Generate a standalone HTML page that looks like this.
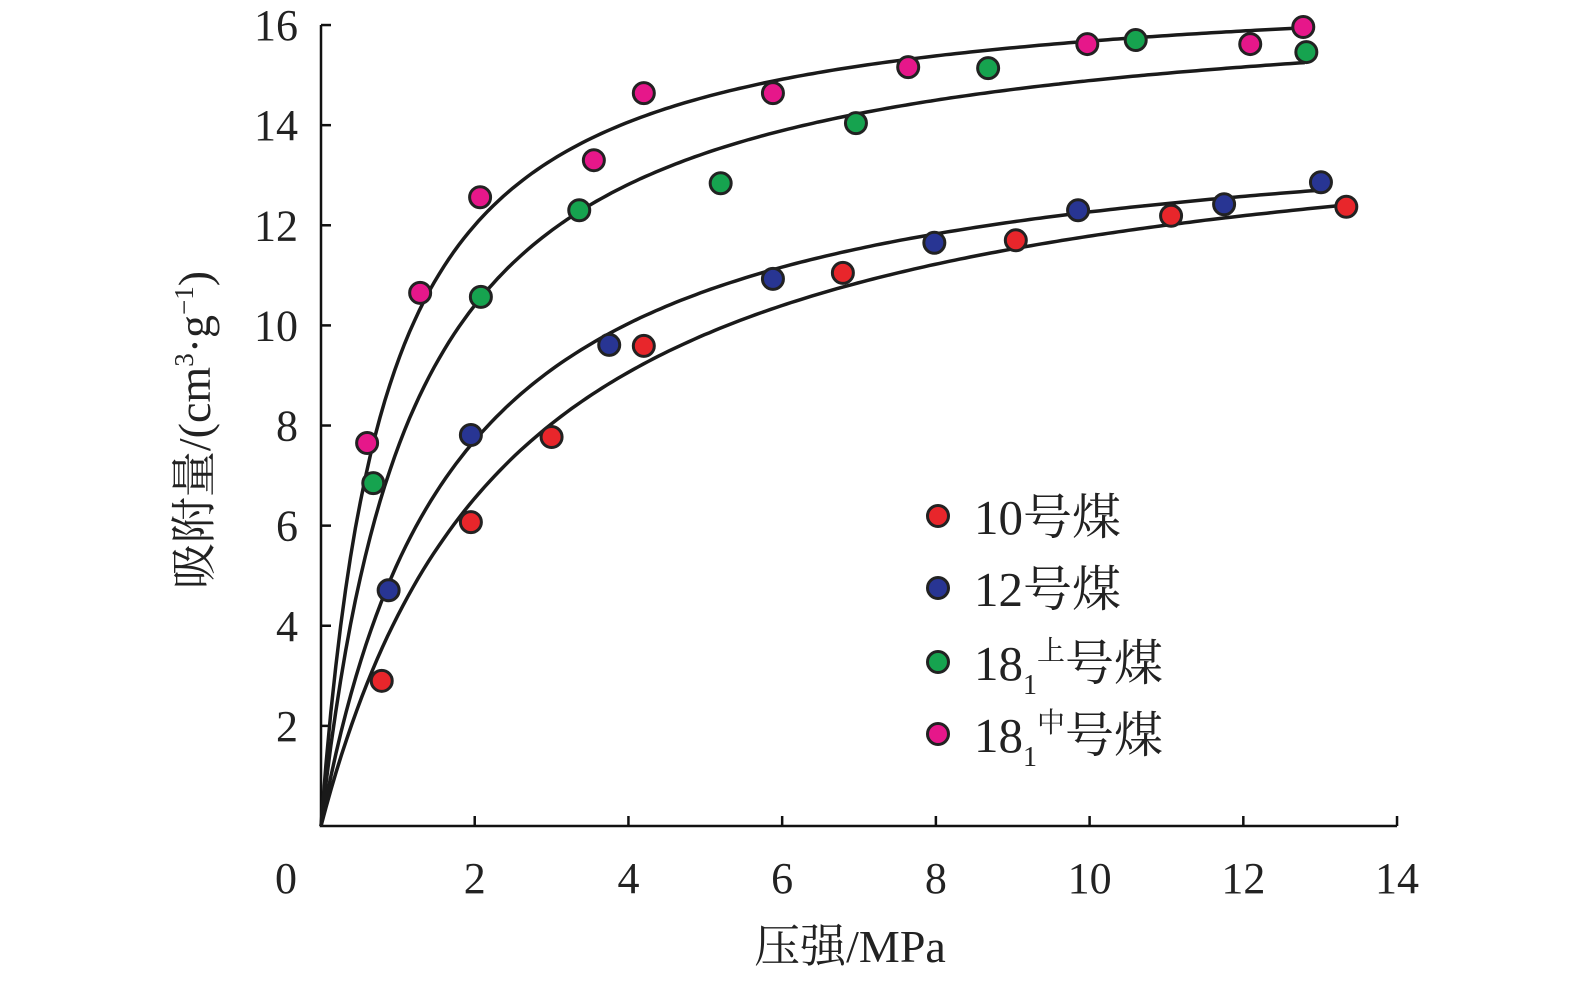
<!DOCTYPE html>
<html><head><meta charset="utf-8"><style>
html,body{margin:0;padding:0;background:#fff;}
svg{display:block;font-family:"Liberation Serif","Noto Serif CJK SC","Noto Sans CJK SC",serif;}
</style></head><body>
<svg id="chart" width="1575" height="984" viewBox="0 0 1575 984"></svg>
<script>
const xTicks=[0,2,4,6,8,10,12,14];
const yTicks=[2,4,6,8,10,12,14,16];
const seriesNames=["10号煤","12号煤","18₁上号煤","18₁中号煤"];
const seriesColors=["#e8262b","#283593","#16a34f","#e6178a"];
const redX=[0.79,1.95,3.0,4.2,6.79,9.04,11.06,13.34];
const redY=[2.9,6.07,7.77,9.59,11.05,11.7,12.19,12.37];
const blueX=[0.88,1.95,3.75,5.88,7.98,9.85,11.75,13.01];
const blueY=[4.71,7.81,9.61,10.93,11.65,12.3,12.42,12.86];
const greenX=[0.68,2.08,3.36,5.2,6.96,8.68,10.6,12.82];
const greenY=[6.85,10.57,12.3,12.84,14.04,15.14,15.7,15.46];
const pinkX=[0.6,1.29,2.07,3.55,4.2,5.88,7.64,9.97,12.09,12.78];
const pinkY=[7.65,10.65,12.56,13.3,14.64,14.64,15.16,15.62,15.62,15.96];
const fitVL=[14.73,14.4,16.69,16.98];
const fitPL=[2.5,1.739,1.209,0.83];
const fitEnd=[13.3,13.0,12.8,12.8];

const NS="http://www.w3.org/2000/svg";
const svg=document.getElementById('chart');
const X=v=>321+v*76.86;
const Y=v=>826-v*50.06;
function mk(t,a){const e=document.createElementNS(NS,t);for(const k in a)e.setAttribute(k,a[k]);svg.appendChild(e);return e;}

let ax=mk('path',{d:`M${X(0)},${Y(16)} L${X(0)},${Y(0)} L${X(14)},${Y(0)}`,fill:'none',stroke:'#111','stroke-width':2.5});


xTicks.forEach(t=>{
  if(t>0){let l=mk('line',{x1:X(t),x2:X(t),y1:Y(0),y2:Y(0)-10,stroke:'#111','stroke-width':2.5});
  
  }
  let tx=mk('text',{x:t===0?286:X(t),y:893,'font-size':44,'text-anchor':'middle',fill:'#222'});
  tx.textContent=t;
  
  
});
yTicks.forEach(t=>{
  let l=mk('line',{x1:X(0),x2:X(0)+10,y1:Y(t),y2:Y(t),stroke:'#111','stroke-width':2.5});
  
  
  let tx=mk('text',{x:298,y:Y(t)+15,'font-size':44,'text-anchor':'end',fill:'#222'});
  tx.textContent=t;
  
  
});
let xt=mk('text',{x:850,y:962,'font-size':46,'text-anchor':'middle',fill:'#222'});
xt.textContent='压强/MPa';


let yt=mk('text',{x:0,y:0,'font-size':46,'text-anchor':'middle',fill:'#222',transform:'translate(210,430) rotate(-90)'});
yt.innerHTML='吸附量/(cm<tspan font-size="27" dy="-17">3</tspan><tspan dy="17">·g</tspan><tspan font-size="27" dy="-17">−1</tspan><tspan dy="17">)</tspan>';



for(let i=0;i<4;i++){
  let d='';
  for(let k=0;k<=200;k++){const p=fitEnd[i]*k/200;const v=fitVL[i]*p/(fitPL[i]+p);d+=(k?'L':'M')+X(p).toFixed(1)+','+Y(v).toFixed(1);}
  let c=mk('path',{d,fill:'none',stroke:'#1a1a1a','stroke-width':3.5});
  
  
}
const allX=[redX,blueX,greenX,pinkX],allY=[redY,blueY,greenY,pinkY];
for(let i=0;i<4;i++){
  allX[i].forEach((x,j)=>{
    let c=mk('circle',{cx:X(x),cy:Y(allY[i][j]),r:10.5,fill:seriesColors[i],stroke:'#222','stroke-width':3});
    
    
  });
}
const legY=[516,588,662,734];
const legHTML=['10号煤','12号煤','18<tspan font-size="28" dy="14">1</tspan><tspan font-size="28" dy="-34">上</tspan><tspan dy="20">号煤</tspan>','18<tspan font-size="28" dy="14">1</tspan><tspan font-size="28" dy="-34">中</tspan><tspan dy="20">号煤</tspan>'];
for(let i=0;i<4;i++){
  let c=mk('circle',{cx:938,cy:legY[i],r:10.5,fill:seriesColors[i],stroke:'#222','stroke-width':3});
  
  
  let t=mk('text',{x:974,y:legY[i]+18,'font-size':49,fill:'#222'});
  t.innerHTML=legHTML[i];
  
  
}
</script>
</body></html>
